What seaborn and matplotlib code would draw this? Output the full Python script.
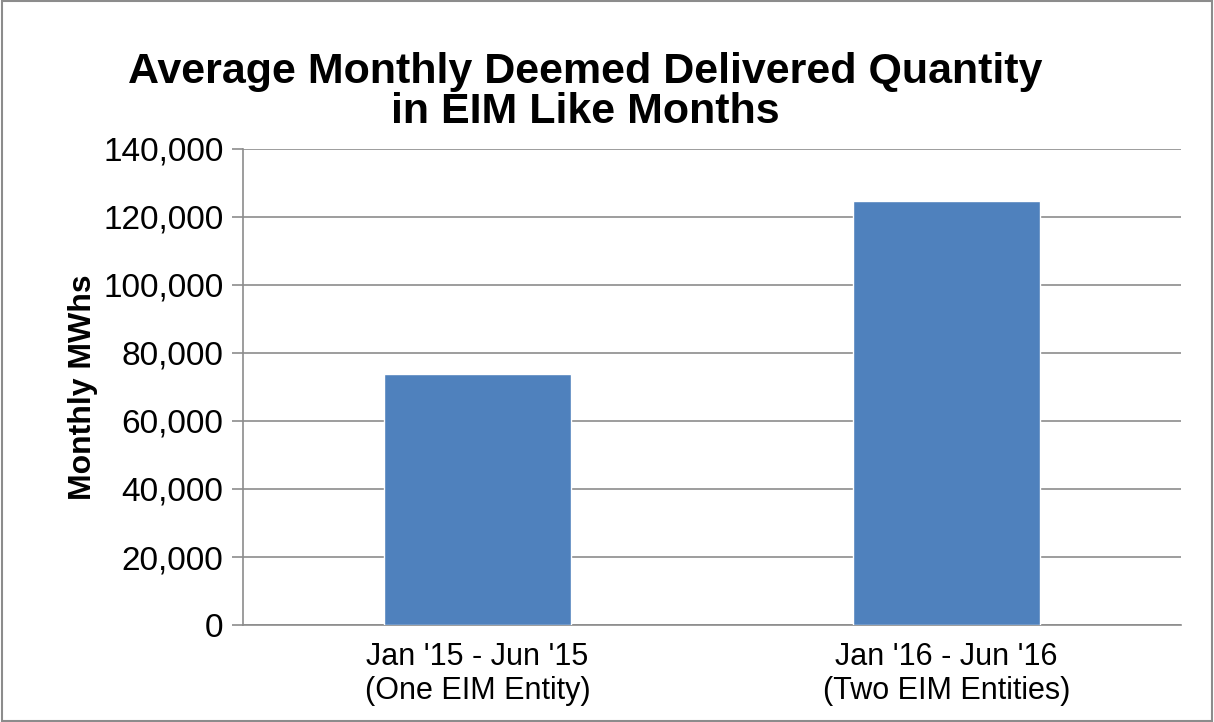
import matplotlib
matplotlib.use("Agg")
import matplotlib.pyplot as plt
import matplotlib.patches as mpatches
from matplotlib.ticker import FuncFormatter
import seaborn as sns
import pandas as pd

categories = ["Jan '15 - Jun '15\n(One EIM Entity)",
              "Jan '16 - Jun '16\n(Two EIM Entities)"]
values = [73800, 124800]
y_ticks = [0, 20000, 40000, 60000, 80000, 100000, 120000, 140000]

sns.set_style("white")
plt.rcParams["font.family"] = ["Liberation Sans", "DejaVu Sans"]
plt.rcParams["text.color"] = "black"
plt.rcParams["axes.labelcolor"] = "black"
plt.rcParams["xtick.color"] = "black"
plt.rcParams["ytick.color"] = "black"

df = pd.DataFrame({"period": categories, "mwh": values})

fig = plt.figure(figsize=(12.14, 7.22), dpi=100)
ax = fig.add_axes([243 / 1214, 1 - 625 / 722, 938 / 1214, 476 / 722])

sns.barplot(data=df, x="period", y="mwh", color="#4F81BD", width=0.4,
            saturation=1, ax=ax, zorder=3)

ax.set_ylim(0, 140000)
ax.set_yticks(y_ticks)
ax.yaxis.set_major_formatter(FuncFormatter(lambda v, p: f"{int(v):,}"))
ax.grid(axis="y", color="#8c8c8c", linewidth=1.2, zorder=0)
ax.set_axisbelow(True)

# category separators as tick marks
ax.set_xlim(-0.5, 1.5)
ax.set_xticks([-0.5, 0.5, 1.5], minor=True)
ax.tick_params(axis="x", which="minor", length=8, color="#8c8c8c", width=1.2)
ax.tick_params(axis="x", which="major", length=0, labelsize=22, pad=12)
ax.tick_params(axis="y", length=8, color="#8c8c8c", width=1.2,
               labelsize=24, pad=6, left=True)
for lbl in ax.get_xticklabels():
    lbl.set_linespacing(1.2)

for side in ["top", "right"]:
    ax.spines[side].set_visible(False)
for side in ["left", "bottom"]:
    ax.spines[side].set_color("#8c8c8c")
    ax.spines[side].set_linewidth(1.2)

ax.set_xlabel("")
ax.set_ylabel("Monthly MWhs", fontsize=23, fontweight="bold", labelpad=4)

fig.text(0.482, 0.872, "Average Monthly Deemed Delivered Quantity\nin EIM Like Months",
         ha="center", va="center", fontsize=31, fontweight="bold",
         linespacing=1.0)

# outer frame
fig.patches.append(mpatches.Rectangle((0.002, 0.002), 0.996, 0.996,
                                      transform=fig.transFigure, fill=False,
                                      edgecolor="#8c8c8c", linewidth=1.5))

fig.savefig("out.png", dpi=100)
